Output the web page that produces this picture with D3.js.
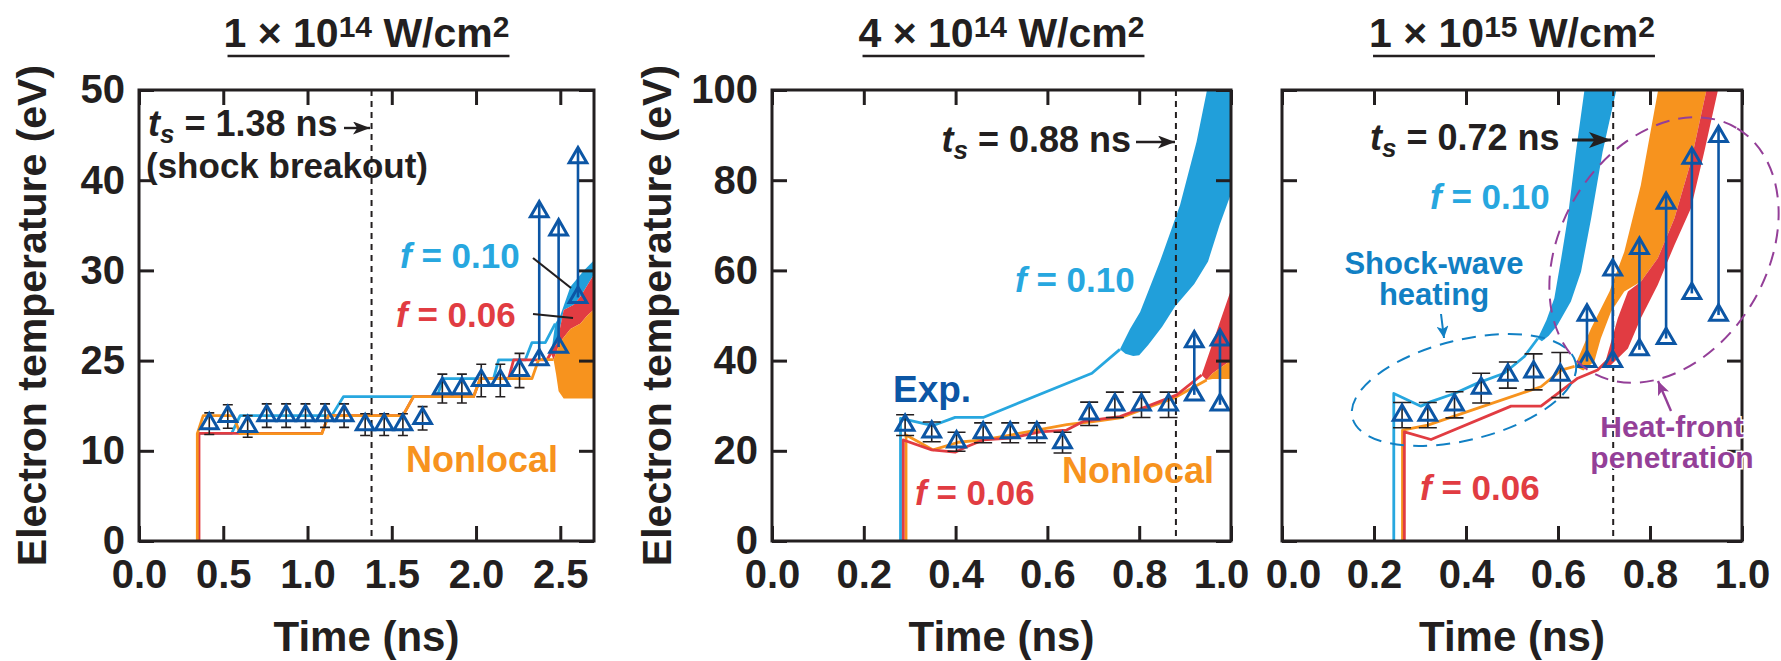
<!DOCTYPE html>
<html>
<head>
<meta charset="utf-8">
<script src="https://cdn.jsdelivr.net/npm/d3@7"></script>
<style>
  body { margin: 0; background: #fff; }
  svg { display: block; font-family: "Liberation Sans", Arial, Helvetica, sans-serif; font-weight: bold; }
</style>
</head>
<body>
<svg id="chart" width="1781" height="661"></svg>
<script>
// ---------- data (time in ns, electron temperature in eV) ----------
const xTicks1 = [0, 0.5, 1.0, 1.5, 2.0, 2.5]
const xTicks23 = [0, 0.2, 0.4, 0.6, 0.8, 1.0]
const yTicks1 = [0, 10, 20, 30, 40, 50]
const yTickLabels1 = ["0", "10", "25", "30", "40", "50"]
const yTicks23 = [0, 20, 40, 60, 80, 100]
const yTickLabels23 = ["0", "20", "40", "60", "80", "100"]

// panel 1: 1e14 W/cm2
const p1ExpTime = [0.417, 0.527, 0.645, 0.758, 0.873, 0.988, 1.104, 1.217, 1.342, 1.455, 1.566, 1.683, 1.80, 1.916, 2.031, 2.144, 2.258]
const p1ExpTe = [13.0, 13.8, 12.7, 13.9, 13.9, 13.9, 13.9, 13.9, 12.9, 12.9, 12.9, 13.6, 16.9, 16.9, 17.8, 17.8, 18.9]
const p1ExpErr = [1.2, 1.3, 1.2, 1.3, 1.3, 1.3, 1.3, 1.3, 1.2, 1.2, 1.2, 1.3, 1.6, 1.6, 1.8, 1.8, 1.9]
const p1ArrowTime = [2.375, 2.49, 2.605]
const p1ArrowLow = [20.1, 21.5, 27.0]
const p1ArrowHigh = [36.5, 34.5, 42.5]
const p1BlueTime = [0.350, 0.350, 0.550, 0.600, 1.144, 1.213, 1.768, 1.807, 2.104, 2.134, 2.292, 2.332, 2.411, 2.47]
const p1BlueTe = [0, 11.94, 11.94, 13.9, 13.9, 16.0, 16.0, 18.0, 18.0, 20.07, 20.07, 22.0, 22.0, 24.1]
const p1RedTime = [0.356, 0.356, 1.085, 1.124, 1.566, 1.629, 1.985, 2.025, 2.193, 2.223, 2.421, 2.46]
const p1RedTe = [0, 11.94, 11.94, 13.9, 13.9, 16.0, 16.0, 18.0, 18.0, 20.07, 20.07, 21.4]
const p1OrangeTime = [0.346, 0.346, 0.381, 0.56, 0.60, 1.085, 1.124, 1.566, 1.629, 1.985, 2.025, 2.332, 2.371, 2.46]
const p1OrangeTe = [0, 11.9, 13.9, 13.9, 11.9, 11.9, 13.9, 13.9, 16.0, 16.0, 18.0, 18.0, 20.1, 20.1]
const p1BlueBand = [[2.45, 21.4], [2.47, 24.1], [2.50, 25.0], [2.56, 28.2], [2.64, 30.0], [2.72, 31.5], [2.72, 30.2], [2.62, 27.1], [2.58, 26.2], [2.52, 25.6], [2.48, 21.9]]
const p1RedBand = [[2.44, 21.0], [2.48, 21.9], [2.52, 25.6], [2.58, 26.2], [2.62, 27.1], [2.72, 30.2], [2.72, 26.0], [2.66, 25.0], [2.62, 24.1], [2.56, 23.5], [2.50, 22.1], [2.46, 20.1]]
const p1OrangeBand = [[2.46, 20.1], [2.50, 22.1], [2.56, 23.5], [2.62, 24.1], [2.66, 25.0], [2.72, 26.0], [2.72, 15.8], [2.52, 15.8], [2.49, 16.6], [2.475, 18.5]]

// panel 2: 4e14 W/cm2
const p2ExpTime = [0.290, 0.348, 0.402, 0.460, 0.519, 0.577, 0.633, 0.691, 0.747, 0.805, 0.864]
const p2ExpTe = [25.7, 24.2, 22.0, 24.0, 24.0, 24.0, 21.8, 28.2, 30.2, 30.2, 30.2]
const p2ExpErr = [2.3, 2.2, 2.1, 2.2, 2.2, 2.2, 2.3, 2.6, 2.8, 2.8, 2.8]
const p2ArrowTime = [0.920, 0.976]
const p2ArrowLow = [32.4, 30.2]
const p2ArrowHigh = [44.2, 44.6]
const p2BlueTime = [0.280, 0.280, 0.351, 0.399, 0.46, 0.697, 0.758]
const p2BlueTe = [0, 27.2, 25.6, 27.4, 27.4, 37.2, 42.5]
const p2RedTime = [0.286, 0.286, 0.348, 0.399, 0.424, 0.46, 0.519, 0.584, 0.642, 0.678, 0.758, 0.816, 0.882, 0.936]
const p2RedTe = [0, 22.4, 20.2, 19.7, 20.9, 22.4, 22.8, 24.2, 24.6, 26.5, 27.6, 29.8, 32.4, 36.8]
const p2OrangeTime = [0.292, 0.292, 0.351, 0.406, 0.46, 0.519, 0.577, 0.642, 0.70, 0.758, 0.816, 0.874, 0.947]
const p2OrangeTe = [0, 23.5, 20.2, 21.9, 22.4, 23.5, 24.6, 25.8, 26.5, 27.3, 29.5, 31.6, 35.7]
const p2BlueBand = [[0.758, 42.5], [0.78, 47], [0.802, 50.8], [0.845, 61.9], [0.889, 74.5], [0.925, 88.5], [0.947, 99.6], [0.955, 106], [1.02, 106], [1.02, 78], [1.0, 77], [0.975, 70], [0.95, 62], [0.92, 57], [0.878, 52], [0.85, 47.5], [0.82, 43.5], [0.80, 41.2], [0.787, 41], [0.77, 41.5]]
const p2RedBand = [[0.936, 36.8], [1.0, 55.7], [1.02, 61], [1.02, 41.5], [0.96, 37.2], [0.947, 35.7]]
const p2OrangeBand = [[0.947, 35.7], [0.96, 37.2], [1.02, 41.5], [1.02, 35.9], [0.96, 35.9]]

// panel 3: 1e15 W/cm2
const p3ExpTime = [0.261, 0.317, 0.375, 0.433, 0.491, 0.547, 0.605]
const p3ExpTe = [27.9, 27.9, 30.2, 33.9, 36.8, 37.5, 36.8]
const p3ExpErr = [2.8, 2.8, 2.9, 3.3, 2.9, 4.0, 5.0]
const p3ArrowTime = [0.663, 0.719, 0.777, 0.835, 0.891, 0.949]
const p3ArrowLow = [39.8, 39.8, 42.4, 44.9, 54.9, 50.1]
const p3ArrowHigh = [50.1, 60.1, 64.9, 74.9, 84.9, 89.7]
const p3BlueTime = [0.243, 0.243, 0.302, 0.324, 0.375, 0.425, 0.483, 0.527, 0.556]
const p3BlueTe = [0, 32.7, 29.9, 30.9, 32.7, 35.0, 37.2, 40.9, 44.9]
const p3RedTime = [0.266, 0.266, 0.324, 0.498, 0.563, 0.599, 0.643, 0.686, 0.708]
const p3RedTe = [0, 24.2, 22.5, 29.9, 29.9, 32.7, 36.1, 37.9, 40.1]
const p3OrangeTime = [0.262, 0.262, 0.317, 0.563, 0.607, 0.636]
const p3OrangeTe = [0, 24.6, 25.7, 34.2, 37.9, 38.7]
const p3BlueBand = [[0.556, 44.9], [0.575, 49.0], [0.592, 53.8], [0.607, 62.7], [0.621, 71.5], [0.639, 86.3], [0.657, 99.6], [0.66, 106], [0.735, 106], [0.726, 99.6], [0.697, 86.3], [0.672, 71.5], [0.65, 59.7], [0.628, 53.1], [0.599, 47.9], [0.58, 45.5], [0.565, 44.3]]
const p3OrangeBand = [[0.636, 38.7], [0.672, 47.2], [0.712, 55.3], [0.744, 64.1], [0.78, 78.9], [0.817, 99.6], [0.82, 106], [0.93, 106], [0.922, 99.6], [0.889, 84.1], [0.853, 71.5], [0.817, 62.7], [0.78, 57.5], [0.744, 55.3], [0.715, 50.8], [0.693, 44.9], [0.679, 39.8], [0.655, 37.8]]
const p3RedBand = [[0.701, 39.0], [0.73, 49.4], [0.752, 55.3], [0.78, 57.5], [0.817, 62.7], [0.853, 71.5], [0.889, 84.1], [0.922, 99.6], [0.93, 106], [0.96, 106], [0.947, 99.6], [0.918, 86.3], [0.889, 73.8], [0.853, 65.6], [0.817, 56.8], [0.78, 49.4], [0.752, 42.7], [0.708, 38.3]]

// ---------- styles ----------
const ink = "#231f20"
const colors = {
  blue: "#27a7df",
  blueBand: "#219fda",
  red: "#e13c42",
  orange: "#f7931e",
  exp: "#0c56a5",
  shock: "#1180c4",
  purple: "#943f98"
}

const svg = d3.select("#chart")
const defs = svg.append("defs")

function addArrowMarker (id, color, w, h) {
  defs.append("marker")
    .attr("id", id)
    .attr("viewBox", `0 0 ${w} ${h}`)
    .attr("refX", w)
    .attr("refY", h / 2)
    .attr("markerUnits", "userSpaceOnUse")
    .attr("markerWidth", w)
    .attr("markerHeight", h)
    .attr("orient", "auto")
    .append("path")
    .attr("d", `M0,0L${w},${h / 2}L0,${h}L${w * 0.25},${h / 2}Z`)
    .attr("fill", color)
}
addArrowMarker("arrow-black", ink, 17, 13)
addArrowMarker("arrow-black-big", ink, 22, 16)
addArrowMarker("arrow-shock", colors.shock, 12, 12)
addArrowMarker("arrow-purple", colors.purple, 14, 12)

const zip = (ts, vs) => ts.map((t, i) => [t, vs[i]])

const panels = [
  {
    id: "p1", left: 139, right: 594, top: 90, bottom: 541,
    xDomain: [0, 2.7], yDomain: [0, 50],
    xTicks: xTicks1, yTicks: yTicks1, yLabels: yTickLabels1,
    yTitleX: 46, labelNudge: {},
    title: ["1", "14"], ts: 1.38, capWidth: 10,
    bands: [[p1BlueBand, colors.blueBand], [p1RedBand, colors.red], [p1OrangeBand, colors.orange]],
    lines: [[zip(p1BlueTime, p1BlueTe), colors.blue], [zip(p1RedTime, p1RedTe), colors.red], [zip(p1OrangeTime, p1OrangeTe), colors.orange]],
    exp: { t: p1ExpTime, v: p1ExpTe, e: p1ExpErr },
    arrows: { t: p1ArrowTime, lo: p1ArrowLow, hi: p1ArrowHigh }
  },
  {
    id: "p2", left: 772, right: 1231, top: 90, bottom: 541,
    xDomain: [0, 1], yDomain: [0, 100],
    xTicks: xTicks23, yTicks: yTicks23, yLabels: yTickLabels23,
    yTitleX: 671, labelNudge: { 5: -10 },
    title: ["4", "14"], ts: 0.88, capWidth: 18,
    bands: [[p2BlueBand, colors.blueBand], [p2RedBand, colors.red], [p2OrangeBand, colors.orange]],
    lines: [[zip(p2BlueTime, p2BlueTe), colors.blue], [zip(p2OrangeTime, p2OrangeTe), colors.orange], [zip(p2RedTime, p2RedTe), colors.red]],
    exp: { t: p2ExpTime, v: p2ExpTe, e: p2ExpErr },
    arrows: { t: p2ArrowTime, lo: p2ArrowLow, hi: p2ArrowHigh }
  },
  {
    id: "p3", left: 1282, right: 1742, top: 90, bottom: 541,
    xDomain: [0, 1], yDomain: [0, 100],
    xTicks: xTicks23, yTicks: yTicks23, yLabels: null,
    yTitleX: null, labelNudge: { 0: 11 },
    title: ["1", "15"], ts: 0.72, capWidth: 18,
    bands: [[p3BlueBand, colors.blueBand], [p3OrangeBand, colors.orange], [p3RedBand, colors.red]],
    lines: [[zip(p3BlueTime, p3BlueTe), colors.blue], [zip(p3OrangeTime, p3OrangeTe), colors.orange], [zip(p3RedTime, p3RedTe), colors.red]],
    exp: { t: p3ExpTime, v: p3ExpTe, e: p3ExpErr },
    arrows: { t: p3ArrowTime, lo: p3ArrowLow, hi: p3ArrowHigh }
  }
]

const triangle = d3.symbol().type(d3.symbolTriangle).size(135)

function styleAxis (sel) {
  sel.attr("font-size", null).attr("font-family", null)
  sel.select(".domain").remove()
  sel.selectAll(".tick line").attr("stroke", ink).attr("stroke-width", 3)
  sel.selectAll(".tick text").attr("fill", ink).style("font-size", "40px")
}

function drawPanel (p) {
  const g = svg.append("g").attr("class", p.id)
  const x = d3.scaleLinear().domain(p.xDomain).range([p.left, p.right])
  const y = d3.scaleLinear().domain(p.yDomain).range([p.bottom, p.top])
  const cx = (p.left + p.right) / 2

  defs.append("clipPath").attr("id", `clip-${p.id}`)
    .append("rect")
    .attr("x", p.left).attr("y", p.top)
    .attr("width", p.right - p.left).attr("height", p.bottom - p.top)

  const plot = g.append("g").attr("clip-path", `url(#clip-${p.id})`)

  const bandPath = d3.line().x(d => x(d[0])).y(d => y(d[1])).curve(d3.curveLinearClosed)
  p.bands.forEach(([pts, color]) => {
    plot.append("path").attr("d", bandPath(pts)).attr("fill", color)
  })

  const linePath = d3.line().x(d => x(d[0])).y(d => y(d[1]))
  p.lines.forEach(([pts, color]) => {
    plot.append("path").attr("d", linePath(pts))
      .attr("fill", "none").attr("stroke", color)
      .attr("stroke-width", 2.8).attr("stroke-linejoin", "round")
  })

  // shock breakout time
  plot.append("line")
    .attr("x1", x(p.ts)).attr("x2", x(p.ts))
    .attr("y1", p.top).attr("y2", p.bottom)
    .attr("stroke", ink).attr("stroke-width", 2).attr("stroke-dasharray", "6,5")

  // experimental points with error bars
  const exp = plot.append("g")
  p.exp.t.forEach((t, i) => {
    const px = x(t)
    const yLo = y(p.exp.v[i] - p.exp.e[i])
    const yHi = y(p.exp.v[i] + p.exp.e[i])
    const hw = p.capWidth / 2
    exp.append("path")
      .attr("d", `M${px},${yLo}V${yHi}M${px - hw},${yLo}H${px + hw}M${px - hw},${yHi}H${px + hw}`)
      .attr("stroke", ink).attr("stroke-width", 1.6).attr("fill", "none")
    exp.append("path").attr("d", triangle)
      .attr("transform", `translate(${px},${y(p.exp.v[i])})`)
      .attr("fill", "none").attr("stroke", colors.exp).attr("stroke-width", 3)
  })

  // lower-limit arrows
  p.arrows.t.forEach((t, i) => {
    const px = x(t)
    exp.append("line")
      .attr("x1", px).attr("x2", px)
      .attr("y1", y(p.arrows.lo[i])).attr("y2", y(p.arrows.hi[i]) - 8)
      .attr("stroke", colors.exp).attr("stroke-width", 2.6)
    ;[p.arrows.lo[i], p.arrows.hi[i]].forEach(v => {
      exp.append("path").attr("d", triangle)
        .attr("transform", `translate(${px},${y(v)})`)
        .attr("fill", "none").attr("stroke", colors.exp).attr("stroke-width", 3)
    })
  })

  // axes: ticks inward on all four sides
  const tick = 15
  g.append("g").attr("transform", `translate(0,${p.bottom})`)
    .call(d3.axisBottom(x).tickValues(p.xTicks).tickSizeInner(-tick).tickSizeOuter(0)
      .tickPadding(19).tickFormat(d3.format(".1f")))
    .call(styleAxis)
    .selectAll(".tick text")
    .attr("dx", (d, i) => p.labelNudge[i] || 0)
  g.append("g").attr("transform", `translate(0,${p.top})`)
    .call(d3.axisTop(x).tickValues(p.xTicks).tickSizeInner(-tick).tickSizeOuter(0).tickFormat(""))
    .call(styleAxis)
  g.append("g").attr("transform", `translate(${p.left},0)`)
    .call(d3.axisLeft(y).tickValues(p.yTicks).tickSizeInner(-tick).tickSizeOuter(0).tickPadding(14)
      .tickFormat((d, i) => p.yLabels ? p.yLabels[i] : ""))
    .call(styleAxis)
  g.append("g").attr("transform", `translate(${p.right},0)`)
    .call(d3.axisRight(y).tickValues(p.yTicks).tickSizeInner(-tick).tickSizeOuter(0).tickFormat(""))
    .call(styleAxis)

  g.append("rect")
    .attr("x", p.left).attr("y", p.top)
    .attr("width", p.right - p.left).attr("height", p.bottom - p.top)
    .attr("fill", "none").attr("stroke", ink).attr("stroke-width", 3)

  // axis titles
  g.append("text")
    .attr("x", cx).attr("y", 651)
    .attr("text-anchor", "middle").attr("font-size", 42).attr("fill", ink)
    .text("Time (ns)")
  if (p.yTitleX) {
    g.append("text")
      .attr("transform", `translate(${p.yTitleX},${(p.top + p.bottom) / 2}) rotate(-90)`)
      .attr("text-anchor", "middle").attr("font-size", 41).attr("fill", ink)
      .text("Electron temperature (eV)")
  }

  // intensity title, underlined
  const title = g.append("text")
    .attr("x", cx).attr("y", 47)
    .attr("text-anchor", "middle").attr("font-size", 41).attr("fill", ink)
  title.append("tspan").text(`${p.title[0]} \u00d7 10`)
  title.append("tspan").attr("font-size", 30).attr("dy", -10).text(p.title[1])
  title.append("tspan").attr("dy", 10).text(" W/cm")
  title.append("tspan").attr("font-size", 30).attr("dy", -10).text("2")
  const bb = title.node().getBBox()
  g.append("line")
    .attr("x1", bb.x + 4).attr("x2", bb.x + bb.width)
    .attr("y1", 56).attr("y2", 56)
    .attr("stroke", ink).attr("stroke-width", 2.6)

  return { g, x, y }
}

const drawn = panels.map(drawPanel)

// ---------- annotations ----------
function tsLabel (g, px, py, anchor, value) {
  const t = g.append("text").attr("x", px).attr("y", py)
    .attr("text-anchor", anchor).attr("font-size", 36).attr("fill", ink)
  t.append("tspan").attr("font-style", "italic").text("t")
  t.append("tspan").attr("font-style", "italic").attr("font-size", 26).attr("dy", 7).text("s")
  t.append("tspan").attr("dy", -7).text(` = ${value} ns`)
  return t
}

function fLabel (g, px, py, value, color) {
  const t = g.append("text").attr("x", px).attr("y", py)
    .attr("font-size", 35).attr("fill", color)
  t.append("tspan").attr("font-style", "italic").text("f")
  t.append("tspan").text(` = ${value}`)
}

function plainLabel (g, px, py, text, color, size, anchor) {
  return g.append("text").attr("x", px).attr("y", py)
    .attr("text-anchor", anchor || "start").attr("font-size", size).attr("fill", color)
    .text(text)
}

function arrow (g, x1, y1, x2, y2, color, width, marker) {
  g.append("line")
    .attr("x1", x1).attr("y1", y1).attr("x2", x2).attr("y2", y2)
    .attr("stroke", color).attr("stroke-width", width)
    .attr("marker-end", `url(#${marker})`)
}

const a1 = drawn[0].g
tsLabel(a1, 148, 136, "start", "1.38")
plainLabel(a1, 146, 178, "(shock breakout)", ink, 35)
arrow(a1, 344, 128, 370, 128, ink, 2.4, "arrow-black")
fLabel(a1, 400, 268, "0.10", colors.blue)
fLabel(a1, 396, 327, "0.06", colors.red)
a1.append("line").attr("x1", 533).attr("y1", 258).attr("x2", 571).attr("y2", 288).attr("stroke", ink).attr("stroke-width", 2.2)
a1.append("line").attr("x1", 533).attr("y1", 314).attr("x2", 573).attr("y2", 318).attr("stroke", ink).attr("stroke-width", 2.2)
plainLabel(a1, 406, 472, "Nonlocal", colors.orange, 36)

const a2 = drawn[1].g
tsLabel(a2, 1131, 152, "end", "0.88")
arrow(a2, 1136, 142, 1175, 142, ink, 2.4, "arrow-black")
fLabel(a2, 1015, 292, "0.10", colors.blue)
plainLabel(a2, 893, 402, "Exp.", colors.exp, 37)
fLabel(a2, 915, 505, "0.06", colors.red)
plainLabel(a2, 1062, 483, "Nonlocal", colors.orange, 36)

const a3 = drawn[2].g
tsLabel(a3, 1370, 150, "start", "0.72")
arrow(a3, 1572, 140, 1611, 140, ink, 3, "arrow-black-big")
fLabel(a3, 1430, 209, "0.10", colors.blue)
plainLabel(a3, 1434, 274, "Shock-wave", colors.shock, 31, "middle")
plainLabel(a3, 1434, 305, "heating", colors.shock, 31, "middle")
arrow(a3, 1441, 314, 1444, 338, colors.shock, 2, "arrow-shock")
a3.append("ellipse")
  .attr("transform", "translate(1464,390) rotate(-14)")
  .attr("rx", 115).attr("ry", 50)
  .attr("fill", "none").attr("stroke", colors.shock)
  .attr("stroke-width", 2).attr("stroke-dasharray", "14,9")
a3.append("ellipse")
  .attr("transform", "translate(1664,250) rotate(-59)")
  .attr("rx", 142).attr("ry", 103)
  .attr("fill", "none").attr("stroke", colors.purple)
  .attr("stroke-width", 2).attr("stroke-dasharray", "14,9")
arrow(a3, 1671, 411, 1658, 381, colors.purple, 2.4, "arrow-purple")
plainLabel(a3, 1672, 437, "Heat-front", colors.purple, 30, "middle")
  .attr("stroke", "#fff").attr("stroke-width", 3).attr("paint-order", "stroke")
plainLabel(a3, 1672, 468, "penetration", colors.purple, 30, "middle")
  .attr("stroke", "#fff").attr("stroke-width", 3).attr("paint-order", "stroke")
fLabel(a3, 1420, 500, "0.06", colors.red)
</script>
</body>
</html>
